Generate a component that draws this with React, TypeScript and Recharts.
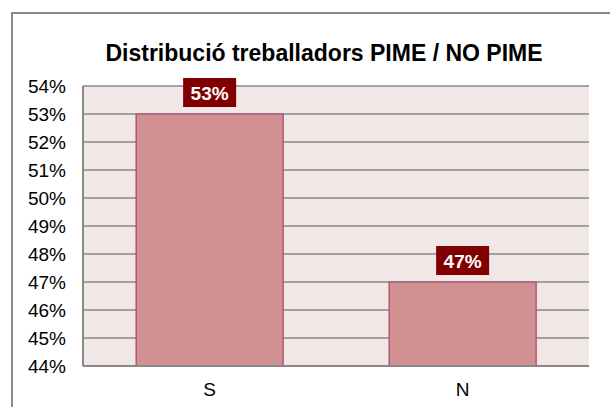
import React from "react";
import { BarChart, Bar, XAxis, YAxis, CartesianGrid, LabelList } from "recharts";

const categories = ["S", "N"];
const shares = [0.53, 0.47];
const yTicks = [0.44, 0.45, 0.46, 0.47, 0.48, 0.49, 0.5, 0.51, 0.52, 0.53, 0.54];
const title = "Distribució treballadors PIME / NO PIME";

const data = categories.map((c, i) => ({ cat: c, value: shares[i] }));

const FONT = "'Liberation Sans', Arial, sans-serif";

const pct = (v: number) => `${Math.round(v * 100)}%`;

const BoxLabel = (props: any) => {
  const { x, y, width, value } = props;
  const bw = 53;
  const bh = 29;
  const cx = x + width / 2;
  const top = y - 7 - bh;
  return (
    <g>
      <rect x={cx - bw / 2} y={top} width={bw} height={bh} fill="#800000" />
      <text
        x={cx}
        y={top + bh / 2 + 7}
        textAnchor="middle"
        fill="#ffffff"
        fontFamily={FONT}
        fontWeight="bold"
        fontSize={19}
      >
        {pct(value)}
      </text>
    </g>
  );
};

export default function App() {
  return (
    <div style={{ position: "absolute", left: 0, top: 0, width: 610, height: 407, overflow: "hidden", background: "#fff" }}>
      <div
        style={{
          position: "absolute",
          left: 11,
          top: 12,
          width: 620,
          height: 430,
          border: "2px solid #8a8a8a",
          boxSizing: "border-box",
        }}
      />
      <div
        style={{
          position: "absolute",
          left: 0,
          top: 40,
          width: 648,
          textAlign: "center",
          fontFamily: FONT,
          fontWeight: "bold",
          fontSize: 23,
          color: "#000",
          whiteSpace: "nowrap",
        }}
      >
        {title}
      </div>
      <div style={{ position: "absolute", left: 0, top: 0 }}>
        <BarChart
          width={610}
          height={407}
          data={data}
          margin={{ top: 86, right: 21, bottom: 0, left: 0 }}
          barCategoryGap="21%"
        >
          <CartesianGrid
            vertical={false}
            stroke="#888888"
            strokeWidth={1.5}
            fill="#F2E7E7"
            fillOpacity={1}
          />
          <XAxis
            dataKey="cat"
            height={41}
            tickLine={false}
            tickSize={0}
            tickMargin={17}
            axisLine={{ stroke: "#888888", strokeWidth: 2 }}
            tick={{ fill: "#000", fontFamily: FONT, fontSize: 19 }}
          />
          <YAxis
            width={83}
            domain={[0.44, 0.54]}
            ticks={yTicks}
            interval={0}
            tickFormatter={pct}
            tickLine={false}
            tickSize={0}
            tickMargin={17}
            axisLine={{ stroke: "#888888", strokeWidth: 2 }}
            tick={{ fill: "#000", fontFamily: FONT, fontSize: 19 }}
            allowDataOverflow
          />
          <Bar dataKey="value" fill="#D29191" stroke="#A8406E" strokeWidth={1.2} isAnimationActive={false}>
            <LabelList dataKey="value" content={BoxLabel} />
          </Bar>
        </BarChart>
      </div>
    </div>
  );
}
